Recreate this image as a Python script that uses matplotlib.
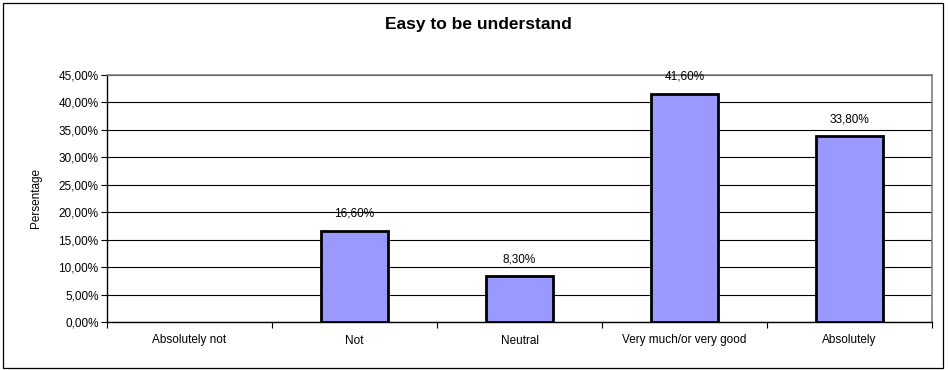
import numpy as np
import matplotlib.pyplot as plt
from matplotlib.patches import Rectangle
from matplotlib.ticker import FuncFormatter, FixedLocator

categories = ['Absolutely not', 'Not', 'Neutral', 'Very much/or very good', 'Absolutely']
values = [0.0, 16.6, 8.3, 41.6, 33.8]
yticks = [0, 5, 10, 15, 20, 25, 30, 35, 40, 45]

plt.rcParams['font.family'] = ['Liberation Sans', 'DejaVu Sans']

fig = plt.figure(figsize=(9.48, 3.70), dpi=100)
ax = fig.add_axes([107/948, 1 - 322/370, 825/948, 247/370])

# frame around the whole chart
fig.patches.append(Rectangle((3/948, 2/370), 940/948, 365/370, transform=fig.transFigure,
                             fill=False, edgecolor='black', lw=0.9))

x = np.arange(len(categories))
# empty categories get no outline so nothing sits on the axis
edge_w = [2 if v > 0 else 0 for v in values]
ax.bar(x, values, width=0.41, color='#9999FF', edgecolor='black', lw=edge_w, zorder=3)

for xi, v in zip(x, values):
    if v > 0:
        ax.annotate(f'{v:.2f}%'.replace('.', ','), xy=(xi, v), xytext=(0, 8),
                    textcoords='offset points', ha='center', va='bottom', fontsize=8.5)

ax.set_xlim(-0.5, len(categories) - 0.5)
ax.set_ylim(0, 45)
ax.set_yticks(yticks)
ax.yaxis.set_major_formatter(FuncFormatter(lambda v, p: f'{v:.2f}%'.replace('.', ',')))
ax.yaxis.grid(True, color='black', lw=0.8, zorder=0)
ax.set_axisbelow(True)

# category labels centred, tick marks between categories
ax.set_xticks(x)
ax.set_xticklabels(categories, fontsize=8.5)
ax.tick_params(axis='x', length=0, pad=9)
ax.xaxis.set_minor_locator(FixedLocator(np.arange(-0.5, len(categories), 1.0)))
ax.tick_params(axis='x', which='minor', length=4, width=0.8)
ax.tick_params(axis='y', labelsize=8.5, length=4, width=0.8, pad=2)

for s in ['top', 'right']:
    ax.spines[s].set_color('#808080')
    ax.spines[s].set_linewidth(1.2)
for s in ['left', 'bottom']:
    ax.spines[s].set_color('black')
    ax.spines[s].set_linewidth(1.0)

ax.set_ylabel('Persentage', fontsize=8.5, labelpad=12)
fig.text(478/948, 1 - 25/370, 'Easy to be understand', ha='center', va='center',
         fontsize=12.5, fontweight='bold')

fig.savefig('out.png', dpi=100)
